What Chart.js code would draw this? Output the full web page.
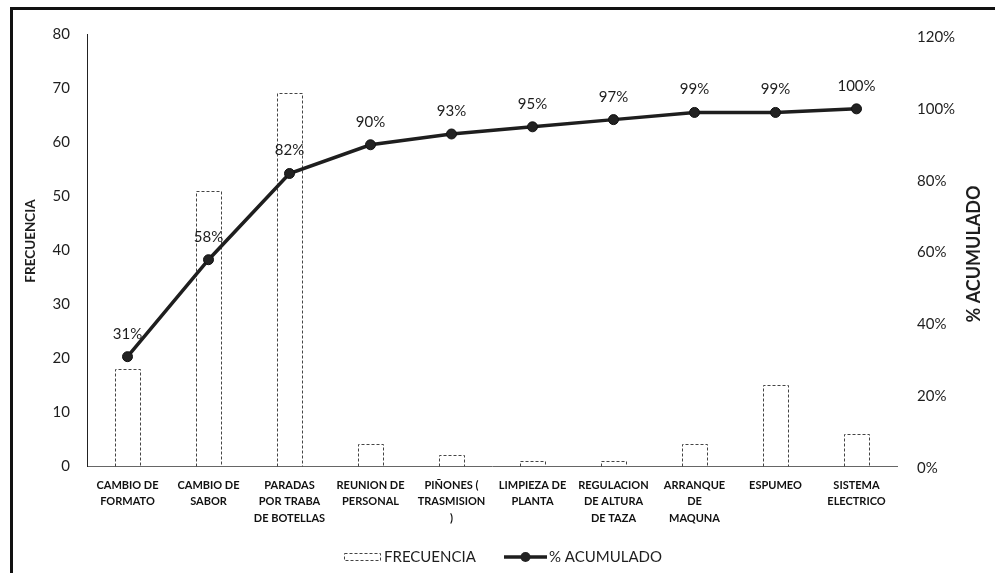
<!DOCTYPE html>
<html>
<head>
<meta charset="utf-8">
<script src="https://cdn.jsdelivr.net/npm/chart.js@4/dist/chart.umd.min.js"></script>
<style>
  html, body { margin: 0; padding: 0; background: #fff; }
  #wrap { width: 995px; height: 573px; position: relative; }
</style>
</head>
<body>
<div id="wrap"><canvas id="c" width="995" height="573"></canvas></div>
<script>
// Categories (multi-line labels under the x axis)
const categories = [
  ['CAMBIO DE', 'FORMATO'],
  ['CAMBIO DE', 'SABOR'],
  ['PARADAS', 'POR TRABA', 'DE BOTELLAS'],
  ['REUNION DE', 'PERSONAL'],
  ['PIÑONES (', 'TRASMISION', ')'],
  ['LIMPIEZA DE', 'PLANTA'],
  ['REGULACION', 'DE ALTURA', 'DE TAZA'],
  ['ARRANQUE', 'DE', 'MAQUNA'],
  ['ESPUMEO'],
  ['SISTEMA', 'ELECTRICO']
];

// Frequency per cause (bars, left axis)
const frecuencia = [18, 51, 69, 4, 2, 1, 1, 4, 15, 6];

// Cumulative percentage (line, right axis)
const acumulado = [31, 58, 82, 90, 93, 95, 97, 99, 99, 100];

// Right-axis tick values (percent)
const percentTicks = [0, 20, 40, 60, 80, 100, 120];

// Legend / axis titles
const seriesNames = ['FRECUENCIA', '% ACUMULADO'];
const axisTitles = { left: 'FRECUENCIA', right: '% ACUMULADO' };

const FONT = 'Lato, "Open Sans", sans-serif';
const INK = '#1e1e1e';

// Dashed outlines for the bars, traced from the bar elements' geometry
const dashedBars = {
  id: 'dashedBars',
  afterDatasetDraw(chart, args) {
    if (args.index !== 0) return;
    const ctx = chart.ctx;
    ctx.save();
    ctx.strokeStyle = '#444';
    ctx.lineWidth = 1;
    ctx.setLineDash([3, 2]);
    args.meta.data.forEach(el => {
      const p = el.getProps(['x', 'y', 'base', 'width'], true);
      const l = Math.round(p.x - p.width / 2) + 0.5;
      const r = Math.round(p.x + p.width / 2) + 0.5;
      const t = Math.round(p.y) + 0.5;
      const b = Math.round(p.base) + 0.5;
      ctx.beginPath();
      ctx.moveTo(l, b);
      ctx.lineTo(l, t);
      ctx.lineTo(r, t);
      ctx.lineTo(r, b);
      ctx.stroke();
    });
    ctx.restore();
  }
};

// Percentage labels above the cumulative line points
const pointLabels = {
  id: 'pointLabels',
  afterDatasetsDraw(chart) {
    const meta = chart.getDatasetMeta(1);
    const ctx = chart.ctx;
    ctx.save();
    ctx.font = '15px ' + FONT;
    ctx.fillStyle = INK;
    ctx.textAlign = 'center';
    ctx.textBaseline = 'alphabetic';
    meta.data.forEach((pt, i) => {
      ctx.fillText(acumulado[i] + '%', pt.x, pt.y - 18);
    });
    ctx.restore();
  }
};

// Frame, rotated axis titles and legend
const decorations = {
  id: 'decorations',
  afterDraw(chart) {
    const ctx = chart.ctx;
    ctx.save();

    // outer frame (left and top edges)
    ctx.strokeStyle = '#111';
    ctx.lineWidth = 3;
    ctx.beginPath();
    ctx.moveTo(11.5, 600);
    ctx.lineTo(11.5, 8.5);
    ctx.lineTo(1000, 8.5);
    ctx.stroke();

    // axis titles
    ctx.fillStyle = INK;
    ctx.textAlign = 'center';
    ctx.textBaseline = 'middle';
    ctx.font = 'bold 13.5px ' + FONT;
    ctx.save();
    ctx.translate(31, 241);
    ctx.rotate(-Math.PI / 2);
    ctx.fillText(axisTitles.left, 0, 0);
    ctx.restore();

    ctx.font = 'bold 18px ' + FONT;
    ctx.save();
    ctx.translate(974, 254);
    ctx.rotate(-Math.PI / 2);
    ctx.fillText(axisTitles.right, 0, 0);
    ctx.restore();

    // legend
    const ly = 557;
    ctx.font = '15px ' + FONT;
    ctx.textAlign = 'left';
    ctx.textBaseline = 'middle';
    ctx.strokeStyle = '#444';
    ctx.lineWidth = 1;
    ctx.setLineDash([3, 2]);
    ctx.strokeRect(344.5, ly - 3.5, 36, 7);
    ctx.setLineDash([]);
    ctx.fillText(seriesNames[0], 384, ly);

    ctx.strokeStyle = INK;
    ctx.lineWidth = 3.5;
    ctx.beginPath();
    ctx.moveTo(504, ly);
    ctx.lineTo(547, ly);
    ctx.stroke();
    ctx.beginPath();
    ctx.arc(525.5, ly, 5, 0, Math.PI * 2);
    ctx.fillStyle = '#222';
    ctx.fill();
    ctx.fillStyle = INK;
    ctx.fillText(seriesNames[1], 549, ly);

    ctx.restore();
  }
};

new Chart(document.getElementById('c'), {
  type: 'bar',
  data: {
    labels: categories,
    datasets: [
      {
        type: 'bar',
        label: seriesNames[0],
        data: frecuencia,
        yAxisID: 'y',
        backgroundColor: '#ffffff',
        borderWidth: 0,
        categoryPercentage: 1,
        barPercentage: 0.3,
        order: 1
      },
      {
        type: 'line',
        label: seriesNames[1],
        data: acumulado,
        yAxisID: 'y1',
        borderColor: INK,
        borderWidth: 3.5,
        pointRadius: 5,
        pointBackgroundColor: '#222',
        pointBorderColor: '#111',
        pointBorderWidth: 1,
        tension: 0,
        order: 0
      }
    ]
  },
  options: {
    responsive: false,
    animation: false,
    layout: { padding: { top: 34, left: 0, right: 0, bottom: 0 } },
    plugins: {
      legend: { display: false },
      tooltip: { enabled: false }
    },
    scales: {
      x: {
        offset: true,
        grid: { display: false, drawTicks: false },
        border: { display: true, color: '#666', width: 1, dash: [3, 3] },
        ticks: {
          color: '#111',
          padding: 11,
          maxRotation: 0,
          autoSkip: false,
          font: { family: FONT, size: 11, weight: 'bold', lineHeight: 1.5 }
        },
        afterFit(s) { s.height = 107; }
      },
      y: {
        position: 'left',
        min: 0,
        max: 80,
        grid: { display: false, drawTicks: false },
        border: { display: true, color: '#222', width: 1 },
        ticks: {
          stepSize: 10,
          padding: 17,
          color: INK,
          font: { family: FONT, size: 15 }
        },
        afterFit(s) { s.width = 87; }
      },
      y1: {
        position: 'right',
        // the percent axis sits a touch lower than the frequency axis
        min: 0.56,
        max: 120.84,
        grid: { display: false, drawTicks: false },
        border: { display: false },
        afterBuildTicks(s) { s.ticks = percentTicks.map(v => ({ value: v })); },
        ticks: {
          padding: 20,
          color: INK,
          font: { family: FONT, size: 15 },
          callback: v => v + '%'
        },
        afterFit(s) { s.width = 98; }
      }
    }
  },
  plugins: [dashedBars, pointLabels, decorations]
});
</script>
</body>
</html>
